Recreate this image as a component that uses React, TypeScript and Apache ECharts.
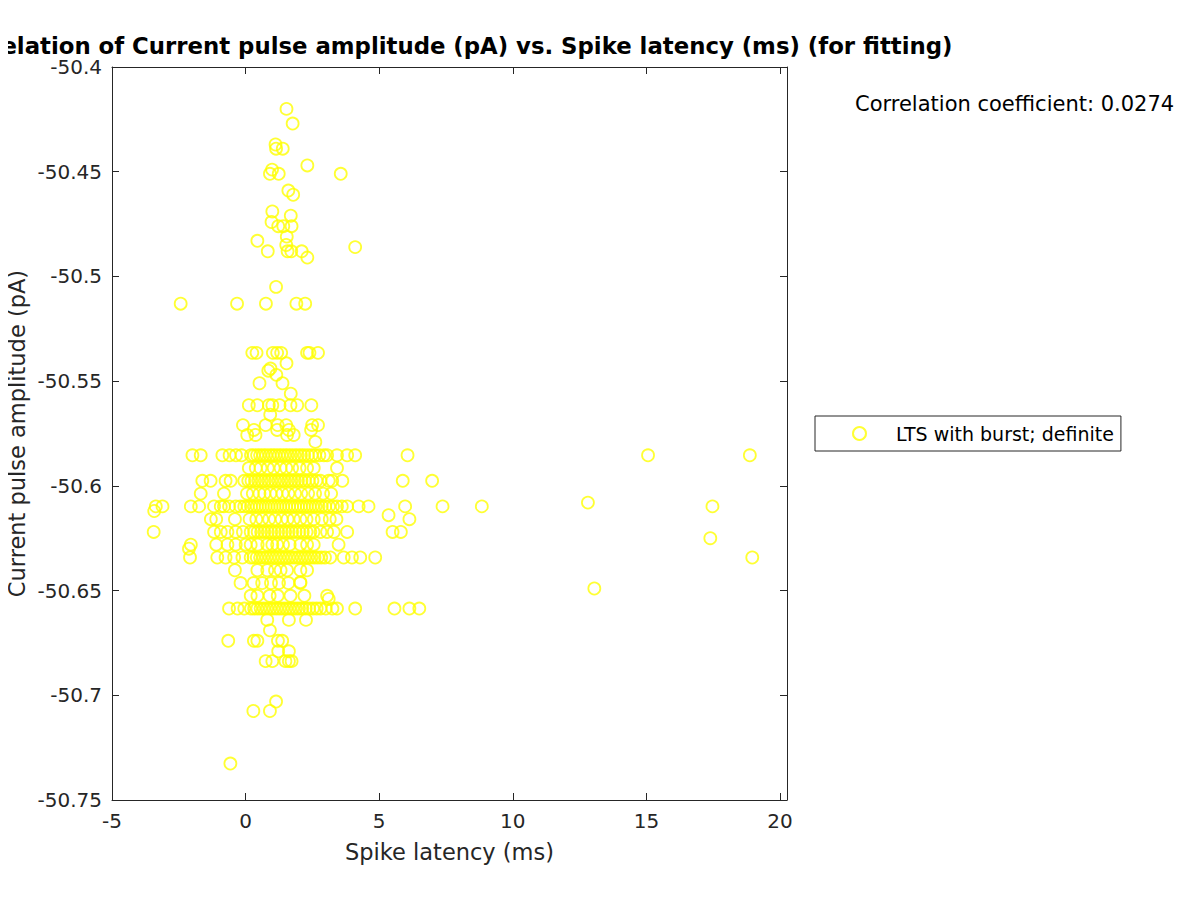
import React, { useEffect, useRef } from "react";
import * as echarts from "echarts";

// Isolated points (latency ms, amplitude pA)
const sparseLatency = [
  1.53, 1.76, 1.12, 1.14, 1.39, 2.31, 3.56, 0.99, 0.91, 1.24, 1.6, 1.78, 1.0, 1.69, 0.97, 1.22, 1.41, 1.72,
  1.54, 0.44, 4.1, 1.52, 1.57, 1.71, 0.83, 2.1, 2.31, 1.14, -2.43, -0.32, 0.76, 1.9, 2.23,
  0.25, 0.41, 1.02, 1.18, 1.33, 2.3, 2.39, 2.71,
  1.53, 0.85, 0.93, 1.15, 0.52, 1.38, 1.69,
  0.12, 0.44, 0.87, 1.0, 1.27, 1.68, 1.93, 2.46,
  0.92,
  -0.1, 0.75, 1.2, 1.52, 2.49, 2.71,
  0.31, 1.18, 1.62, 2.45,
  0.06, 0.37, 1.55, 1.8, 2.61,
  -3.42, 5.35, 12.81, 13.05, 17.39, 3.11, 2.05, -2.12,
  0.81, 1.62, 2.26, 0.91,
  -0.65, 0.31, 0.44, 1.21, 1.37,
  1.22, 1.62,
  0.75, 1.0, 1.49, 1.62, 1.72,
  1.14, 0.29, 0.91, -0.57,
];
const sparseAmplitude = [
  -50.42, -50.427, -50.437, -50.439, -50.439, -50.447, -50.451, -50.449, -50.451, -50.451, -50.459, -50.461, -50.469, -50.471, -50.474, -50.476, -50.476, -50.476,
  -50.481, -50.483, -50.486, -50.485, -50.488, -50.488, -50.488, -50.488, -50.491, -50.505, -50.513, -50.513, -50.513, -50.513, -50.513,
  -50.5365, -50.5365, -50.5365, -50.5365, -50.5365, -50.5365, -50.5365, -50.5365,
  -50.5415, -50.545, -50.544, -50.547, -50.551, -50.551, -50.556,
  -50.5615, -50.5615, -50.5615, -50.5615, -50.5615, -50.5615, -50.5615, -50.5615,
  -50.566,
  -50.571, -50.571, -50.571, -50.571, -50.571, -50.571,
  -50.5733, -50.5733, -50.5733, -50.5733,
  -50.5757, -50.5757, -50.5757, -50.5757, -50.579,
  -50.612, -50.614, -50.608, -50.649, -50.625, -50.654, -50.646, -50.63,
  -50.664, -50.664, -50.664, -50.669,
  -50.674, -50.674, -50.674, -50.674, -50.674,
  -50.679, -50.679,
  -50.6837, -50.6837, -50.6837, -50.6837, -50.6837,
  -50.703, -50.7075, -50.7075, -50.7326,
];

// Amplitude levels where many cells share the same value, and their latencies
const rowAmplitudes = [
  -50.5854, -50.5915, -50.5976, -50.6037, -50.6098, -50.6159, -50.622,
  -50.6281, -50.6342, -50.6403, -50.6464, -50.6525, -50.6586,
];
const rowLatencies: number[][] = [
  [-1.99, -1.68, -0.87, -0.6, -0.36, -0.15, 0.2, 0.31, 0.43, 0.54, 0.66, 0.77, 0.9, 1.01, 1.12, 1.24, 1.35, 1.47, 1.58, 1.7, 1.83, 1.95, 2.07, 2.19, 2.33, 2.47, 2.6, 2.76, 2.93, 3.05, 3.42, 3.8, 4.1, 6.06, 15.06, 18.87],
  [0.12, 0.38, 0.56, 0.83, 1.05, 1.31, 1.52, 1.74, 2.02, 2.3, 2.55, 3.42],
  [-1.62, -1.31, -0.75, -0.56, -0.05, 0.1, 0.22, 0.35, 0.47, 0.6, 0.72, 0.85, 0.97, 1.1, 1.22, 1.34, 1.46, 1.59, 1.71, 1.84, 1.96, 2.09, 2.22, 2.36, 2.5, 2.65, 2.8, 3.11, 3.24, 3.62, 5.88, 6.98],
  [-1.68, -0.81, 0.05, 0.27, 0.52, 0.7, 0.93, 1.15, 1.38, 1.6, 1.85, 2.08, 2.34, 2.6, 2.9, 3.2],
  [-3.36, -3.11, -2.05, -1.74, -1.18, -0.93, -0.81, -0.62, -0.37, -0.2, -0.05, 0.08, 0.2, 0.31, 0.42, 0.53, 0.64, 0.75, 0.86, 0.97, 1.08, 1.19, 1.3, 1.41, 1.52, 1.63, 1.74, 1.85, 1.96, 2.07, 2.18, 2.29, 2.4, 2.51, 2.62, 2.73, 2.85, 2.98, 3.12, 3.27, 3.42, 3.6, 3.8, 4.23, 4.6, 5.97, 7.37, 8.84, 17.47],
  [-1.3, -1.1, -0.4, 0.15, 0.4, 0.62, 0.88, 1.1, 1.35, 1.57, 1.8, 2.05, 2.28, 2.55, 2.85, 3.15, 3.4, 6.13],
  [-3.44, -1.18, -0.93, -0.68, -0.37, -0.1, 0.19, 0.32, 0.45, 0.58, 0.7, 0.83, 0.96, 1.09, 1.22, 1.35, 1.48, 1.61, 1.74, 1.87, 2.0, 2.14, 2.28, 2.42, 2.54, 2.8, 3.05, 3.3, 3.8, 5.5, 5.81],
  [-2.05, -1.1, -0.68, -0.37, 0.0, 0.19, 0.45, 0.81, 1.0, 1.18, 1.4, 1.65, 2.05, 2.3, 2.55, 3.48],
  [-2.08, -1.06, -0.75, -0.43, -0.12, 0.19, 0.3, 0.42, 0.54, 0.66, 0.78, 0.9, 1.02, 1.14, 1.26, 1.38, 1.5, 1.62, 1.74, 1.86, 1.98, 2.1, 2.22, 2.34, 2.46, 2.58, 2.7, 2.83, 2.97, 3.17, 3.67, 3.98, 4.29, 4.85, 18.96],
  [-0.4, 0.44, 0.81, 1.1, 1.31, 1.55, 2.05, 2.3],
  [-0.19, 0.3, 0.62, 0.95, 1.25, 1.6, 2.05],
  [0.19, 0.44, 0.9, 1.2, 1.68, 2.2, 3.05],
  [-0.62, -0.3, -0.05, 0.2, 0.32, 0.44, 0.56, 0.68, 0.8, 0.92, 1.04, 1.16, 1.28, 1.4, 1.52, 1.64, 1.76, 1.88, 2.0, 2.12, 2.25, 2.38, 2.52, 2.66, 2.8, 3.0, 3.25, 3.42, 4.1, 5.57, 6.13, 6.5],
];

const xTicks = [-5, 0, 5, 10, 15, 20];
const seriesName = "LTS with burst; definite";
const corrText = "Correlation coefficient: 0.0274";
const titleText = "Correlation of Current pulse amplitude (pA) vs. Spike latency (ms) (for fitting)";

const FONT = "DejaVu Sans";
const AX = "#262626";

export default function App() {
  const ref = useRef<HTMLDivElement>(null);
  useEffect(() => {
    if (!ref.current) return;
    const chart = echarts.init(ref.current, undefined, { renderer: "svg" });
    const points: number[][] = [];
    sparseLatency.forEach((x, i) => points.push([x, sparseAmplitude[i]]));
    rowAmplitudes.forEach((y, i) => rowLatencies[i].forEach((x) => points.push([x, y])));

    const yFmt = (v: number) => String(parseFloat(v.toFixed(2)));
    const xFmt = (v: number) => (xTicks.includes(Math.round(v * 100) / 100) ? String(Math.round(v)) : "");

    const gridPos = { left: 112, top: 67, width: 675, height: 733 };
    const tick = { show: true, inside: true, length: 7, lineStyle: { color: AX, width: 1 } };
    const line = { show: true, lineStyle: { color: AX, width: 1 } };

    chart.setOption({
      animation: false,
      backgroundColor: "#ffffff",
      grid: { ...gridPos, containLabel: false, outerBoundsMode: "none" },
      xAxis: [
        {
          type: "value", min: -5, max: 20.26, interval: 5,
          axisLine: { ...line, onZero: false }, axisTick: tick, splitLine: { show: false },
          axisLabel: { formatter: xFmt, color: AX, fontFamily: FONT, fontSize: 20, margin: 11 },
          name: "Spike latency (ms)", nameLocation: "middle", nameGap: 40, nameMoveOverlap: false,
          nameTextStyle: { color: AX, fontFamily: FONT, fontSize: 22.5 },
        },
        {
          type: "value", position: "top", min: -5, max: 20.26, interval: 5,
          axisLine: { ...line, onZero: false }, axisTick: tick, splitLine: { show: false },
          axisLabel: { show: false },
        },
      ],
      yAxis: [
        {
          type: "value", min: -50.75, max: -50.4, interval: 0.05,
          axisLine: { ...line, onZero: false }, axisTick: tick, splitLine: { show: false },
          axisLabel: { formatter: yFmt, color: AX, fontFamily: FONT, fontSize: 20, margin: 10 },
          name: "Current pulse amplitude (pA)", nameLocation: "middle", nameGap: 84, nameRotate: 90,
          nameMoveOverlap: false,
          nameTextStyle: { color: AX, fontFamily: FONT, fontSize: 22.5 },
        },
        {
          type: "value", position: "right", min: -50.75, max: -50.4, interval: 0.05,
          axisLine: { ...line, onZero: false }, axisTick: tick, splitLine: { show: false },
          axisLabel: { show: false },
        },
      ],
      legend: {
        show: true,
        left: 815, top: 416,
        orient: "vertical",
        padding: [8, 7, 8, 37],
        itemWidth: 13, itemHeight: 13,
        borderColor: AX, borderWidth: 1,
        backgroundColor: "#ffffff",
        textStyle: { color: "#000", fontFamily: FONT, fontSize: 19, padding: [0, 0, 0, 25] },
        data: [{ name: seriesName, icon: "circle" }],
      },
      graphic: [
        {
          type: "text", x: 449.5, y: 46,
          style: { text: titleText, fill: "#000", font: `bold 22.8px '${FONT}'`, textAlign: "center", textVerticalAlign: "middle" },
        },
        {
          type: "text", x: 855, y: 104,
          style: { text: corrText, fill: "#000", font: `21px '${FONT}'`, textAlign: "left", textVerticalAlign: "middle" },
        },
      ],
      series: [
        {
          name: seriesName,
          type: "scatter",
          xAxisIndex: 0, yAxisIndex: 0,
          symbol: "circle",
          symbolSize: 12,
          data: points,
          itemStyle: { color: "rgba(255,255,0,0)", borderColor: "#ffff00", borderWidth: 1.8 },
          emphasis: { disabled: true },
          silent: true,
        },
      ],
    });
    return () => chart.dispose();
  }, []);
  return <div ref={ref} style={{ width: 1200, height: 900, margin: -8 }} />;
}
